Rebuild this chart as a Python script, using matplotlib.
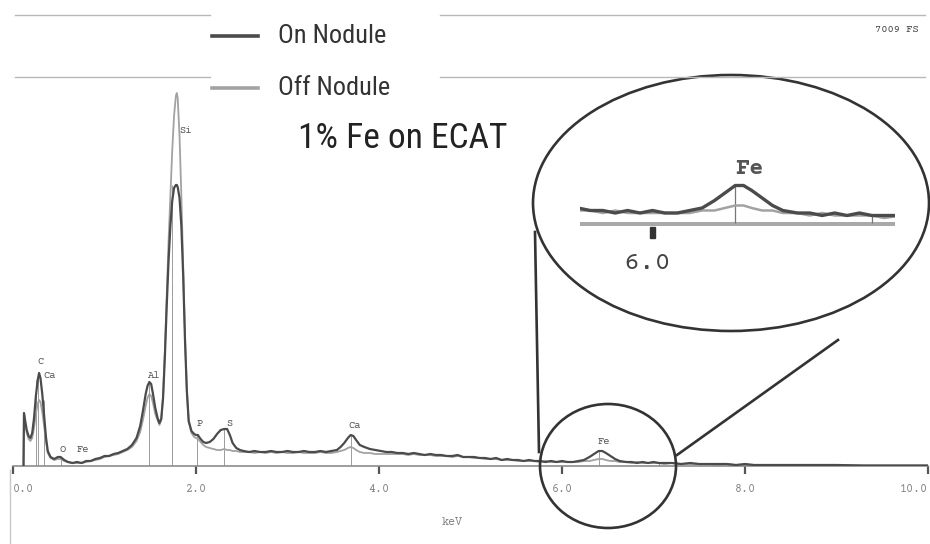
import matplotlib
matplotlib.use("Agg")
import matplotlib.pyplot as plt
from matplotlib import font_manager
from matplotlib.patches import Ellipse, Rectangle
from matplotlib.lines import Line2D

# ---------------------------------------------------------------- data
energy_kev = [
    0.115, 0.120, 0.130, 0.150, 0.170, 0.190, 0.210, 0.230, 0.250, 0.270,
    0.285, 0.300, 0.320, 0.340, 0.360, 0.380, 0.410, 0.450, 0.490, 0.520,
    0.560, 0.600, 0.650, 0.700, 0.750, 0.800, 0.850, 0.900, 0.950, 1.000,
    1.050, 1.100, 1.150, 1.200, 1.250, 1.300, 1.350, 1.390, 1.420, 1.450,
    1.470, 1.490, 1.510, 1.530, 1.555, 1.580, 1.600, 1.620, 1.640, 1.660,
    1.680, 1.700, 1.720, 1.740, 1.760, 1.780, 1.790, 1.800, 1.820, 1.840,
    1.860, 1.880, 1.900, 1.920, 1.950, 1.980, 2.000, 2.020, 2.050, 2.080,
    2.110, 2.150, 2.190, 2.230, 2.270, 2.310, 2.340, 2.370, 2.400, 2.440,
    2.480, 2.52, 2.58, 2.64, 2.70, 2.76, 2.82, 2.88, 2.94, 3.00,
    3.06, 3.12, 3.18, 3.24, 3.30, 3.36, 3.42, 3.48, 3.54, 3.58,
    3.62, 3.66, 3.69, 3.72, 3.75, 3.79, 3.84, 3.90, 3.96, 4.02,
    4.08, 4.14, 4.20, 4.26, 4.32, 4.38, 4.44, 4.50, 4.56, 4.62,
    4.68, 4.74, 4.80, 4.86, 4.92, 4.98, 5.04, 5.10, 5.16, 5.22,
    5.28, 5.34, 5.40, 5.46, 5.52, 5.58, 5.64, 5.70, 5.76, 5.82,
    5.88, 5.94, 6.00, 6.06, 6.12, 6.18, 6.24, 6.30, 6.35, 6.40,
    6.44, 6.48, 6.53, 6.58, 6.63, 6.70, 6.76, 6.82, 6.88, 6.94,
    7.00, 7.06, 7.12, 7.20, 7.30, 7.40, 7.50, 7.60, 7.70, 7.80,
    7.90, 8.00, 8.10, 8.20, 8.40, 8.60, 8.80, 9.00, 9.30, 9.60,
    10.00,
]

on_nodule = [
    0, 53, 47, 36, 30, 28, 33, 48, 70, 86,
    93, 88, 72, 50, 29, 15, 9, 7, 9, 9,
    6, 4, 3, 4, 3, 5, 5, 7, 8, 10,
    10, 12, 13, 15, 17, 21, 28, 40, 55, 72,
    80, 84, 82, 72, 58, 48, 43, 47, 68, 110,
    160, 205, 240, 265, 278, 281, 281, 279, 268, 240,
    190, 125, 75, 45, 35, 32, 31, 31, 27, 24,
    23, 24, 27, 32, 36, 37, 37, 31, 23, 18,
    16, 15, 14, 15, 14, 14, 15, 14, 14, 15,
    14, 14, 15, 14, 14, 15, 14, 15, 16, 19,
    23, 28, 31, 30, 26, 21, 19, 17, 16, 15,
    14, 14, 13, 13, 12, 13, 12, 11, 12, 11,
    11, 10, 10, 11, 9, 9, 9, 8, 8, 7,
    8, 6, 7, 6, 6, 5, 6, 5, 5, 4,
    5, 4, 5, 4, 4, 5, 6, 9, 12, 15,
    15, 13, 10, 7, 5, 4, 4, 3, 4, 3,
    4, 3, 3, 3, 2, 3, 2, 2, 2, 2,
    1, 2, 1, 1, 1, 1, 1, 1, 0.5, 0.5,
    0.5,
]

off_nodule = [
    0, 50, 44, 33, 27, 25, 28, 38, 52, 62,
    66, 64, 54, 40, 25, 13, 8, 6, 7, 7,
    5, 4, 3, 3, 3, 4, 5, 6, 7, 9,
    10, 11, 12, 14, 16, 19, 25, 34, 46, 60,
    68, 72, 70, 63, 52, 46, 41, 46, 70, 115,
    170, 225, 270, 315, 350, 370, 373, 368, 330, 270,
    200, 130, 75, 45, 33, 29, 28, 27, 24, 21,
    19, 18, 17, 16, 16, 17, 16, 16, 15, 15,
    14, 14, 14, 13, 14, 13, 14, 13, 14, 13,
    13, 14, 13, 13, 13, 14, 13, 13, 14, 15,
    16, 18, 19, 18, 16, 14, 13, 13, 12, 12,
    12, 12, 12, 12, 11, 12, 11, 11, 11, 10,
    10, 10, 9, 10, 9, 9, 8, 8, 7, 7,
    7, 6, 6, 6, 5, 5, 5, 5, 4, 5,
    4, 4, 4, 4, 4, 4, 5, 5, 6, 7,
    7, 6, 5, 5, 4, 4, 3, 4, 3, 3,
    3, 3, 2, 3, 2, 2, 2, 2, 1, 2,
    1, 1, 1, 1, 1, 1, 1, 0.5, 0.5, 0.5,
    0.5,
]

# element marker lines: energy (keV) and height (counts)
marker_kev = [0.25, 0.277, 0.341, 0.525, 1.487, 1.74, 2.013, 2.31, 3.69, 6.40, 7.06]
marker_top = [86, 93, 66, 9, 84, 281, 31, 37, 31, 15, 3]

# element labels: text, energy (keV), height (counts), alignment
peak_labels = [
    ("C", 0.30, 105, "center"),
    ("Ca", 0.33, 91, "left"),
    ("O", 0.54, 17, "center"),
    ("Fe", 0.70, 16, "left"),
    ("Al", 1.48, 90, "left"),
    ("Si", 1.82, 335, "left"),
    ("P", 2.04, 42, "center"),
    ("S", 2.36, 42, "center"),
    ("Ca", 3.73, 40, "center"),
    ("Fe", 6.46, 25, "center"),
]

x_ticks = [0, 2, 4, 6, 8, 10]
x_tick_labels = ["0.0", "2.0", "4.0", "6.0", "8.0", "10.0"]

series_names = ["On Nodule", "Off Nodule"]
title_text = "1% Fe on ECAT"

# ---------------------------------------------------------------- style
names = {f.name for f in font_manager.fontManager.ttflist}


def first_font(*cands):
    for c in cands:
        if c in names:
            return c
    return "DejaVu Sans"


sans = first_font("Roboto Condensed", "Archivo Narrow", "Liberation Sans")
mono = first_font("Courier Prime", "Liberation Mono")
SANS_NARROW = sans != "Liberation Sans"
legend_size = 19 if SANS_NARROW else 17
title_size = 25.5 if SANS_NARROW else 21

DARK = "#4b4b4b"
LIGHT = "#a2a2a2"
MARK = "#9c9c9c"
AXIS = "#8c8c8c"
TXT = "#858585"

W, H = 930, 544
fig = plt.figure(figsize=(W / 100, H / 100), dpi=100)
fig.patch.set_facecolor("white")


def box(x0, y_top, x1, y_bot):
    """Figure-fraction rectangle from pixel edges (y measured downward)."""
    return [x0 / W, (H - y_bot) / H, (x1 - x0) / W, (y_bot - y_top) / H]


# ---------------------------------------------------------------- main spectrum
ax = fig.add_axes(box(13, 80, 928, 466))
ax.set_xlim(0, 10)
ax.set_ylim(0, 386)
ax.set_facecolor("none")
for s in ("top", "left", "right"):
    ax.spines[s].set_visible(False)
ax.spines["bottom"].set_color(AXIS)
ax.spines["bottom"].set_linewidth(1.2)
ax.set_yticks([])
ax.set_xticks(x_ticks)
ax.set_xticklabels(x_tick_labels, fontfamily=mono, fontsize=8.5, color=TXT)
ax.get_xticklabels()[-1].set_horizontalalignment("right")
ax.get_xticklabels()[0].set_horizontalalignment("left")
ax.tick_params(axis="x", direction="out", length=6, width=1.6, color="#555555", pad=7)
ax.set_xlabel("keV", fontfamily=mono, fontsize=8.5, color=TXT)
ax.xaxis.set_label_coords((452 - 13) / 915, -51 / 386)

ax.vlines(marker_kev, 0, marker_top, colors=MARK, linewidth=0.7, zorder=1)
ax.plot(energy_kev, off_nodule, color=LIGHT, linewidth=1.3, zorder=2)
ax.plot(energy_kev, on_nodule, color=DARK, linewidth=1.6, zorder=3)
for txt, ex, ey, ha in peak_labels:
    ax.text(ex, ey, txt, fontfamily=mono, fontsize=7.5, color="#555555",
            ha=ha, va="center", zorder=4)

# ---------------------------------------------------------------- overlay (pixel coords)
ov = fig.add_axes([0, 0, 1, 1])
ov.set_xlim(0, W)
ov.set_ylim(H, 0)
ov.axis("off")
ov.set_facecolor("none")

# header rules
for y in (15, 77):
    ov.plot([15, 210], [y, y], color="#b8b8b8", lw=1.0)
    ov.plot([440, 925], [y, y], color="#b8b8b8", lw=1.0)
ov.text(897, 29, "7009 FS", fontfamily=mono, fontsize=7.5, color="#444444",
        ha="center", va="center")
ov.plot([10, 10], [470, 544], color="#c8c8c8", lw=1.0)

# legend
ov.add_line(Line2D([212, 258], [36, 36], color=DARK, lw=2.6))
ov.add_line(Line2D([212, 258], [88, 88], color=LIGHT, lw=2.6))
ov.text(278, 36, series_names[0], fontfamily=sans, fontsize=legend_size, color="#333333",
        ha="left", va="center")
ov.text(278, 88, series_names[1], fontfamily=sans, fontsize=legend_size, color="#333333",
        ha="left", va="center")
ov.text(298, 139, title_text, fontfamily=sans, fontsize=title_size, color="#222222",
        ha="left", va="center")

# magnifier
ov.add_patch(Ellipse((608, 466), 136, 124, fill=False, ec="#333333", lw=1.9))
ov.add_patch(Ellipse((731, 203), 396, 256, fill=False, ec="#333333", lw=1.9))
ov.plot([539, 535], [452, 232], color="#333333", lw=1.9)
ov.plot([677, 838], [455, 340], color="#333333", lw=1.9)

# inset tick and label
ov.add_patch(Rectangle((649.5, 227), 5, 11, color="#333333"))
ov.text(647, 263, "6.0", fontfamily=mono, fontsize=19, color="#444444",
        ha="center", va="center")

# ---------------------------------------------------------------- inset
ins = fig.add_axes(box(580, 146, 895, 226))
ins.set_xlim(5.65, 5.65 + 315 / 207)
ins.set_ylim(-1.2, 30.8)
ins.axis("off")
ins.set_facecolor("none")
ins.axhline(0, color="#909090", lw=1.1)
ins.axhline(-0.9, color="#909090", lw=1.1)
ins.vlines(marker_kev, 0, marker_top, colors="#777777", linewidth=0.9)
ins.plot(energy_kev, off_nodule, color=LIGHT, linewidth=1.8)
ins.plot(energy_kev, on_nodule, color=DARK, linewidth=2.4)
ins.text(6.47, 21.5, "Fe", fontfamily=mono, fontsize=17, fontweight="bold",
         color="#555555", ha="center", va="center")

fig.savefig("out.png", dpi=100, facecolor="white")
